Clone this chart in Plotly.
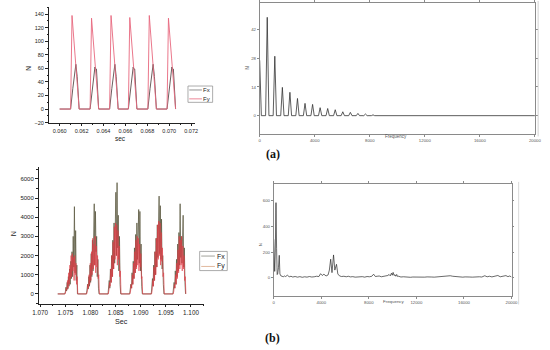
import plotly.graph_objects as go

W, H = 550, 350

# ---------------- (a) time signal ----------------
t_fy_a = [0.0600, 0.06100, 0.06113, 0.06178, 0.06278, 0.06291, 0.06356, 0.06456, 0.06469, 0.06534,
          0.06627, 0.06640, 0.06705, 0.06805, 0.06818, 0.06883, 0.06980, 0.06993, 0.07058]
fy_a = [0, 0, 138, 0, 0, 134, 0, 0, 138, 0, 0, 135, 0, 0, 138, 0, 0, 134, 0]

t_fx_a = [0.0600,
          0.06100, 0.06120, 0.06148, 0.06160, 0.06178,
          0.06278, 0.06298, 0.06322, 0.06328, 0.06336, 0.06356,
          0.06456, 0.06476, 0.06504, 0.06516, 0.06534,
          0.06627, 0.06647, 0.06671, 0.06677, 0.06685, 0.06705,
          0.06805, 0.06825, 0.06853, 0.06865, 0.06883,
          0.06980, 0.07000, 0.07024, 0.07030, 0.07038, 0.07058]
fx_a = [0,
        0, 30, 66, 48, 0,
        0, 28, 62, 59, 59, 0,
        0, 30, 66, 48, 0,
        0, 28, 62, 59, 59, 0,
        0, 30, 66, 48, 0,
        0, 28, 62, 59, 59, 0]

# ---------------- (a) spectrum ----------------
peak_f_a = [0, 549, 1098, 1647, 2196, 2745, 3294, 3843, 4392, 4941, 5490, 6039, 6588, 7137, 7686, 8235, 8784]
peak_v_a = [27, 48, 29, 13.8, 11.4, 8.4, 6.0, 5.5, 3.9, 3.5, 2.9, 1.9, 1.6, 1.1, 0.8, 0.4, 0.2]
peak_halfwidth_a = 120

# ---------------- (b) time signal ----------------
t_start_b = 1.0735
burst_starts_b = [1.0749, 1.0792, 1.0835, 1.0878, 1.0921, 1.0964]
sample_dt_b = 0.00012
fx_bursts_b = [
    [0, 120, 350, 150, 600, 250, 900, 400, 1300, 500, 1700, 800, 2200, 900, 3000, 1400, 4550, 1100, 3300, 700, 1500, 0],
    [0, 200, 500, 250, 900, 400, 1500, 600, 2100, 900, 2800, 1200, 3600, 4700, 1500, 4300, 2200, 3000, 900, 1800, 300, 0],
    [0, 250, 700, 300, 1300, 600, 2000, 900, 2800, 1300, 3700, 1600, 4400, 5300, 2000, 5800, 2400, 4100, 1200, 3000, 500, 0],
    [0, 200, 500, 300, 1100, 500, 1700, 800, 2400, 1100, 3100, 1400, 3700, 1800, 3500, 4400, 1600, 4300, 1200, 2600, 400, 0],
    [0, 300, 800, 400, 1500, 700, 2200, 1000, 2900, 1400, 3600, 1900, 4700, 5100, 2100, 4600, 1800, 3900, 1300, 2000, 500, 0],
    [0, 200, 600, 300, 1200, 500, 1800, 900, 2600, 1200, 3200, 1500, 4700, 1900, 3000, 1600, 3800, 4100, 1400, 2400, 600, 0],
]
fy_bursts_b = [
    [0, 100, 300, 200, 700, 300, 1100, 500, 1500, 800, 2000, 900, 2100, 1200, 1900, 700, 2000, 1000, 1600, 500, 900, 0],
    [0, 150, 500, 300, 1000, 500, 1600, 700, 2200, 1000, 2900, 1300, 2600, 1500, 3000, 1100, 2500, 1400, 2000, 800, 1000, 0],
    [0, 200, 600, 400, 1300, 600, 2000, 900, 2700, 1300, 3500, 1800, 3700, 2000, 3600, 1500, 3300, 1800, 2500, 900, 1200, 0],
    [0, 150, 500, 300, 1000, 500, 1600, 800, 2200, 1100, 2800, 1300, 3000, 1500, 2900, 1200, 2600, 1400, 2100, 800, 900, 0],
    [0, 200, 700, 400, 1400, 700, 2200, 1000, 2900, 1400, 3600, 1800, 3800, 2000, 3700, 1500, 3200, 1700, 2400, 900, 1100, 0],
    [0, 150, 500, 300, 1000, 500, 1600, 800, 2300, 1100, 3000, 1300, 2800, 1500, 3000, 1200, 2500, 1300, 2000, 700, 900, 0],
]

# ---------------- (b) spectrum ----------------
freq_b = [0, 40, 82, 130, 190, 240, 290, 330, 400, 465,
          520, 600, 700, 800, 900, 1000, 1150, 1300, 1450, 1600,
          1800, 2000, 2200, 2400, 2600, 2800, 3000, 3200, 3400, 3600,
          3800, 3940, 4080, 4220, 4400, 4570, 4680, 4790, 4900, 5030,
          5140, 5280, 5390, 5530, 5700, 5900, 6100, 6270, 6450, 6650,
          6850, 7050, 7250, 7450, 7650, 7850, 8050, 8250, 8400, 8550,
          8700, 8870, 9050, 9250, 9450, 9600, 9700, 9800, 9900, 9970,
          10040, 10120, 10200, 10270, 10340, 10420, 10500, 10700, 10900, 11100,
          11300, 11500, 11700, 11900, 12100, 12300, 12500, 12700, 12900, 13100,
          13300, 13500, 13700, 13900, 14100, 14300, 14470, 14650, 14850, 15050,
          15300, 15500, 15700, 15900, 16100, 16300, 16500, 16700, 16900, 17100,
          17300, 17500, 17750, 17950, 18150, 18350, 18550, 18850, 19050, 19250,
          19530, 19700, 19850, 20000]
amp_b = [300, 130, 50, 200, 585, 230, 25, 30, 80, 175,
         30, 15, 12, 8, 14, 10, 20, 8, 12, 6,
         10, 5, 9, 4, 8, 5, 10, 6, 8, 12,
         10, 32, 18, 28, 14, 22, 60, 145, 40, 178,
         60, 105, 30, 15, 10, 12, 8, 12, 7, 9,
         5, 8, 6, 9, 5, 10, 8, 12, 28, 10,
         12, 14, 8, 10, 12, 18, 26, 15, 36, 20,
         42, 18, 24, 12, 26, 10, 12, 6, 8, 5,
         7, 4, 6, 5, 7, 4, 6, 5, 7, 4,
         6, 5, 7, 6, 9, 12, 15, 13, 16, 12,
         10, 6, 8, 5, 7, 4, 6, 5, 7, 6,
         8, 6, 16, 8, 12, 7, 10, 18, 8, 12,
         17, 9, 14, 6]

freq_ticks = [0, 4000, 8000, 12000, 16000, 20000]
freq_ticktext = ["0", "4000", "8000", "12000", "16000", "20000"]
amp_ticks_a = [0, 14, 28, 42]
amp_ticks_b = [0, 200, 400, 600]

# ---------------- build traces ----------------
spec_f_a, spec_v_a = [], []
for f, v in zip(peak_f_a, peak_v_a):
    if f - peak_halfwidth_a >= 0:
        spec_f_a.append(f - peak_halfwidth_a)
        spec_v_a.append(0)
    spec_f_a.append(f)
    spec_v_a.append(v)
    spec_f_a.append(f + peak_halfwidth_a)
    spec_v_a.append(0)
spec_f_a.append(20000)
spec_v_a.append(0)

t_fx_b, fx_b, t_fy_b, fy_b = [t_start_b], [0], [t_start_b], [0]
for s, bx, by in zip(burst_starts_b, fx_bursts_b, fy_bursts_b):
    for i, v in enumerate(bx):
        t_fx_b.append(s + i * sample_dt_b)
        fx_b.append(v)
    for i, v in enumerate(by):
        t_fy_b.append(s + i * sample_dt_b + sample_dt_b * 0.5)
        fy_b.append(v)

C_FX_A = "#5a4c4c"
C_FY_A = "#e8687e"
C_FX_B = "#5f5d45"
C_FY_B = "#e23a44"

fig = go.Figure()
fig.add_trace(go.Scatter(x=t_fx_a, y=fx_a, mode="lines", line=dict(color=C_FX_A, width=0.9),
                         xaxis="x", yaxis="y", showlegend=False, name="Fx"))
fig.add_trace(go.Scatter(x=t_fy_a, y=fy_a, mode="lines", line=dict(color=C_FY_A, width=0.9),
                         xaxis="x", yaxis="y", showlegend=False, name="Fy"))
fig.add_trace(go.Scatter(x=spec_f_a, y=spec_v_a, mode="lines", line=dict(color="#333333", width=0.8),
                         xaxis="x2", yaxis="y2", showlegend=False))
fig.add_trace(go.Scatter(x=t_fx_b, y=fx_b, mode="lines", line=dict(color=C_FX_B, width=0.8),
                         xaxis="x3", yaxis="y3", showlegend=False, name="Fx"))
fig.add_trace(go.Scatter(x=t_fy_b, y=fy_b, mode="lines", line=dict(color=C_FY_B, width=0.8),
                         opacity=0.85, xaxis="x3", yaxis="y3", showlegend=False, name="Fy"))
fig.add_trace(go.Scatter(x=freq_b, y=amp_b, mode="lines", line=dict(color="#2a2a2a", width=0.7),
                         xaxis="x4", yaxis="y4", showlegend=False))


def dx(p):
    return p / W


def dy(p):
    return 1 - p / H


FONT = "Liberation Sans, Arial, sans-serif"
origin_axis = dict(showline=True, linecolor="#222", linewidth=0.8, ticks="outside", ticklen=3,
                   tickwidth=0.7, tickcolor="#222", showgrid=False, zeroline=False,
                   tickfont=dict(size=5.5, color="#222", family=FONT))
spec_axis = dict(showline=True, linecolor="#8a8a8a", linewidth=0.7, ticks="outside", ticklen=2,
                 tickwidth=0.6, tickcolor="#8a8a8a", showgrid=False, zeroline=False, mirror="ticks",
                 tickfont=dict(size=4.3, color="#555", family=FONT))

fig.update_layout(
    width=W, height=H, margin=dict(l=0, r=0, t=0, b=0),
    paper_bgcolor="white", plot_bgcolor="white",
    font=dict(family=FONT),
    xaxis=dict(origin_axis, domain=[dx(43), dx(193)], range=[0.05902, 0.07236], anchor="y",
               tick0=0.060, dtick=0.002, tickformat=".3f",
               minor=dict(dtick=0.001, ticks="outside", ticklen=1.5, tickcolor="#222")),
    yaxis=dict(origin_axis, domain=[dy(123), dy(6)], range=[-20, 150.6], anchor="x",
               tick0=0, dtick=20,
               minor=dict(dtick=10, ticks="outside", ticklen=1.5, tickcolor="#222")),
    xaxis2=dict(spec_axis, domain=[dx(259.3), dx(541.7)], range=[0, 20000], anchor="y2",
                tickvals=freq_ticks, ticktext=freq_ticktext),
    yaxis2=dict(spec_axis, domain=[dy(135), dy(2)], range=[-9.17, 55.0], anchor="x2",
                tickvals=amp_ticks_a, ticktext=[str(v) for v in amp_ticks_a]),
    xaxis3=dict(origin_axis, domain=[dx(32.7), dx(201.7)], range=[1.06975, 1.1025], anchor="y3",
                tick0=1.070, dtick=0.005, tickformat=".3f",
                tickfont=dict(size=6.3, color="#222", family=FONT),
                minor=dict(dtick=0.0025, ticks="outside", ticklen=1.5, tickcolor="#222")),
    yaxis3=dict(origin_axis, domain=[dy(306), dy(168)], range=[-500, 6613], anchor="x3",
                tick0=0, dtick=1000,
                tickfont=dict(size=6.0, color="#222", family=FONT),
                minor=dict(dtick=500, ticks="outside", ticklen=1.5, tickcolor="#222")),
    xaxis4=dict(spec_axis, domain=[dx(273.7), dx(517.7)], range=[0, 20000], anchor="y4",
                tickvals=freq_ticks, ticktext=freq_ticktext),
    yaxis4=dict(spec_axis, domain=[dy(298.3), dy(185)], range=[-140.8, 730.8], anchor="x4",
                tickvals=amp_ticks_b, ticktext=[str(v) for v in amp_ticks_b]),
)

ann = []


def text(x, y, s, size, color="#222", angle=0, family=FONT, bold=False):
    ann.append(dict(x=dx(x), y=dy(y), xref="paper", yref="paper", text=("<b>%s</b>" % s) if bold else s,
                    showarrow=False, textangle=angle, xanchor="center", yanchor="middle",
                    borderpad=0, font=dict(size=size, color=color, family=family)))


text(116, 139, "sec", 6.5)
text(22, 68, "N", 6.5, angle=-90)
text(399, 137.5, "Frequency", 4.5, color="#555")
text(246.5, 68, "N", 4.5, color="#555", angle=-90)
text(118, 324, "Sec", 7.2)
text(6, 235, "N", 7.2, angle=-90)
text(396.7, 304, "Frequency", 4.4, color="#555")
text(260, 246.7, "N", 4.4, color="#555", angle=-90)
SERIF = "Liberation Serif, Times New Roman, serif"
text(272.5, 155, "(a)", 12, color="#111", family=SERIF, bold=True)
text(272.5, 341, "(b)", 12, color="#111", family=SERIF, bold=True)

text(205, 90, "Fx", 6.0)
text(205, 99, "Fy", 6.0)
text(220, 258, "Fx", 7.0)
text(220, 268.5, "Fy", 7.0)

shapes = [
    dict(type="rect", xref="paper", yref="paper", x0=dx(185.7), x1=dx(211), y0=dy(102.5), y1=dy(86),
         line=dict(color="#888", width=0.7), fillcolor="white"),
    dict(type="line", xref="paper", yref="paper", x0=dx(187), x1=dx(200), y0=dy(90), y1=dy(90),
         line=dict(color="#777", width=0.8)),
    dict(type="line", xref="paper", yref="paper", x0=dx(187), x1=dx(200), y0=dy(99), y1=dy(99),
         line=dict(color=C_FY_A, width=0.8)),
    dict(type="rect", xref="paper", yref="paper", x0=dx(197.7), x1=dx(226), y0=dy(272.7), y1=dy(253.3),
         line=dict(color="#888", width=0.7), fillcolor="white"),
    dict(type="line", xref="paper", yref="paper", x0=dx(199.3), x1=dx(213.3), y0=dy(258), y1=dy(258),
         line=dict(color="#8a8a80", width=0.8)),
    dict(type="line", xref="paper", yref="paper", x0=dx(199.3), x1=dx(213.3), y0=dy(268.5), y1=dy(268.5),
         line=dict(color="#d8a483", width=0.8)),
    dict(type="line", xref="paper", yref="paper", x0=dx(545), x1=dx(545), y0=dy(137), y1=dy(0),
         line=dict(color="#c8c8c8", width=0.8)),
    dict(type="line", xref="paper", yref="paper", x0=dx(525), x1=dx(525), y0=dy(307), y1=dy(183),
         line=dict(color="#d0d0d0", width=0.8)),
]

fig.update_layout(annotations=ann, shapes=shapes)
fig.write_html("out.html", config={"displayModeBar": False},
               post_script="document.body.style.margin='0';document.body.style.overflow='hidden';")
